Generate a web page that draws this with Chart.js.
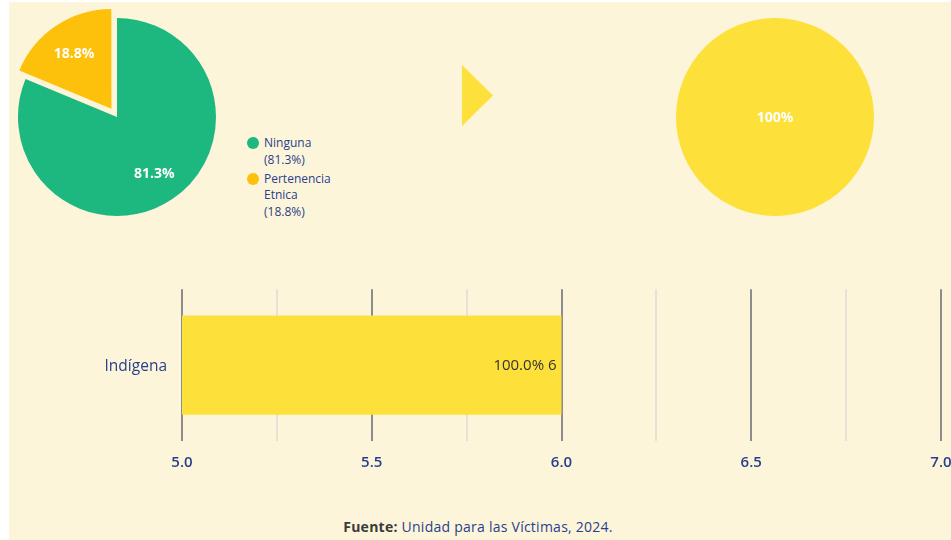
<!DOCTYPE html>
<html lang="es">
<head>
<meta charset="utf-8">
<title>Pertenencia étnica</title>
<script src="https://cdn.jsdelivr.net/npm/chart.js@4.4.1/dist/chart.umd.min.js"></script>
<style>
  html, body { margin: 0; padding: 0; width: 951px; height: 540px; overflow: hidden; background: #fff; font-family: "Open Sans", sans-serif; }
  #panel { position: absolute; left: 9px; top: 2px; width: 942px; height: 538px; background: #fdf5da; }
  .box { position: absolute; }
  #pieBox { left: 8px; top: 8px; width: 218px; height: 218px; }
  #fullBox { left: 666px; top: 8px; width: 218px; height: 218px; }
  #barBox { left: 0; top: 273px; width: 980px; height: 207px; }
  #arrow { position: absolute; left: 462px; top: 65px; width: 31px; height: 61px; background: #fde03a; clip-path: polygon(0 0, 100% 50%, 0 100%); }
  #legend { position: absolute; left: 247px; top: 135px; font-size: 12px; line-height: 16.5px; color: #283f8c; }
  #legend .item { display: flex; align-items: flex-start; margin-bottom: 2.5px; }
  #legend .dot { width: 12px; height: 12px; border-radius: 50%; margin: 2px 5px 0 0; flex: none; }
  #legend .txt { width: 82px; }
  #source { position: absolute; left: 7px; top: 517px; width: 942px; text-align: center; font-size: 14px; letter-spacing: 0.25px; color: #283f8c; }
  #source b { color: #3a3a3a; }
</style>
</head>
<body>
<div id="panel"></div>
<div class="box" id="pieBox"><canvas id="pieChart"></canvas></div>
<div id="legend"></div>
<div id="arrow"></div>
<div class="box" id="fullBox"><canvas id="fullChart"></canvas></div>
<div class="box" id="barBox"><canvas id="barChart"></canvas></div>
<div id="source"><b>Fuente:</b> Unidad para las Víctimas, 2024.</div>

<script>
// datos
const pieLabels = ["Ninguna", "Pertenencia Etnica"];
const pieValues = [26, 6];
const pieColors = ["#1db87f", "#fdc10b"];

const groupLabels = ["Indígena"];
const groupValues = [6];

const xTicks = [5, 5.5, 6, 6.5, 7];

const NAVY = "#283f8c";
Chart.defaults.font.family = "'Open Sans', sans-serif";

const fmtPct = p => parseFloat(p.toFixed(1)) + "%";

// etiquetas blancas dentro de las tortas
// (el arco se desplaza offset/4 px en Chart.js v4)
const pieLabelPlugin = {
  id: "pieLabels",
  afterDatasetsDraw(chart) {
    const ctx = chart.ctx;
    const data = chart.data.datasets[0].data;
    const total = data.reduce((a, b) => a + b, 0);
    ctx.save();
    ctx.font = "bold 14px 'Open Sans', sans-serif";
    ctx.fillStyle = "#fff";
    ctx.textAlign = "center";
    ctx.textBaseline = "middle";
    chart.getDatasetMeta(0).data.forEach((arc, i) => {
      const { x, y, startAngle, endAngle, outerRadius } = arc.getProps(["x", "y", "startAngle", "endAngle", "outerRadius"]);
      const mid = (startAngle + endAngle) / 2;
      const full = endAngle - startAngle >= Math.PI * 2 - 1e-6;
      const r = full ? 0 : outerRadius * 0.68 + (arc.options.offset || 0) / 4;
      ctx.fillText(fmtPct(data[i] / total * 100), x + Math.cos(mid) * r, y + Math.sin(mid) * r + 1);
    });
    ctx.restore();
  }
};

const pieOptions = {
  animation: false,
  responsive: true,
  maintainAspectRatio: false,
  radius: 99,
  layout: { padding: 0 },
  plugins: { legend: { display: false }, tooltip: { enabled: false } }
};

new Chart(document.getElementById("pieChart"), {
  type: "pie",
  data: {
    labels: pieLabels,
    datasets: [{ data: pieValues, backgroundColor: pieColors, borderWidth: 0, offset: [0, 40], hoverOffset: 0 }]
  },
  options: pieOptions,
  plugins: [pieLabelPlugin]
});

// leyenda
const pieTotal = pieValues.reduce((a, b) => a + b, 0);
document.getElementById("legend").innerHTML = pieLabels.map((l, i) =>
  `<div class="item"><span class="dot" style="background:${pieColors[i]}"></span>` +
  `<span class="txt">${l}<br>(${fmtPct(pieValues[i] / pieTotal * 100)})</span></div>`
).join("");

new Chart(document.getElementById("fullChart"), {
  type: "pie",
  data: {
    labels: groupLabels,
    datasets: [{ data: groupValues, backgroundColor: "#fde03a", borderWidth: 0, hoverOffset: 0 }]
  },
  options: pieOptions,
  plugins: [pieLabelPlugin]
});

// etiqueta "100.0% 6" al final de la barra
const barLabelPlugin = {
  id: "barLabels",
  afterDatasetsDraw(chart) {
    const ctx = chart.ctx;
    const data = chart.data.datasets[0].data;
    const total = data.reduce((a, b) => a + b, 0);
    ctx.save();
    ctx.font = "500 15px 'Open Sans', sans-serif";
    ctx.fillStyle = "#333";
    ctx.textAlign = "right";
    ctx.textBaseline = "middle";
    chart.getDatasetMeta(0).data.forEach((bar, i) => {
      ctx.fillText((data[i] / total * 100).toFixed(1) + "% " + data[i], bar.x - 5, bar.y + 1);
    });
    ctx.restore();
  }
};

const isMajor = v => xTicks.some(t => Math.abs(t - v) < 1e-6);

new Chart(document.getElementById("barChart"), {
  type: "bar",
  data: {
    labels: groupLabels,
    datasets: [{ data: groupValues, backgroundColor: "#fde03a", borderWidth: 0, barPercentage: 1, categoryPercentage: 0.654 }]
  },
  options: {
    indexAxis: "y",
    animation: false,
    responsive: true,
    maintainAspectRatio: false,
    layout: { padding: { top: 11, right: 39, left: 0, bottom: 0 } },
    plugins: { legend: { display: false }, tooltip: { enabled: false } },
    scales: {
      x: {
        min: xTicks[0],
        max: xTicks[xTicks.length - 1],
        border: { display: false },
        grid: {
          drawTicks: false,
          lineWidth: 2,
          color: c => (c.tick && isMajor(c.tick.value)) ? "#8c8c8c" : "#e6e2d8"
        },
        ticks: {
          stepSize: 0.25,
          autoSkip: false,
          maxRotation: 0,
          padding: 13,
          color: NAVY,
          font: { size: 15, weight: "600" },
          callback: v => isMajor(v) ? Number(v).toFixed(1) : ""
        },
        afterFit: s => { s.height = 39; }
      },
      y: {
        border: { display: false },
        grid: { display: false },
        ticks: { padding: 7, labelOffset: 1, color: NAVY, font: { size: 15.5 } },
        afterFit: s => { s.width = 182; }
      }
    }
  },
  plugins: [barLabelPlugin]
});
</script>
</body>
</html>
